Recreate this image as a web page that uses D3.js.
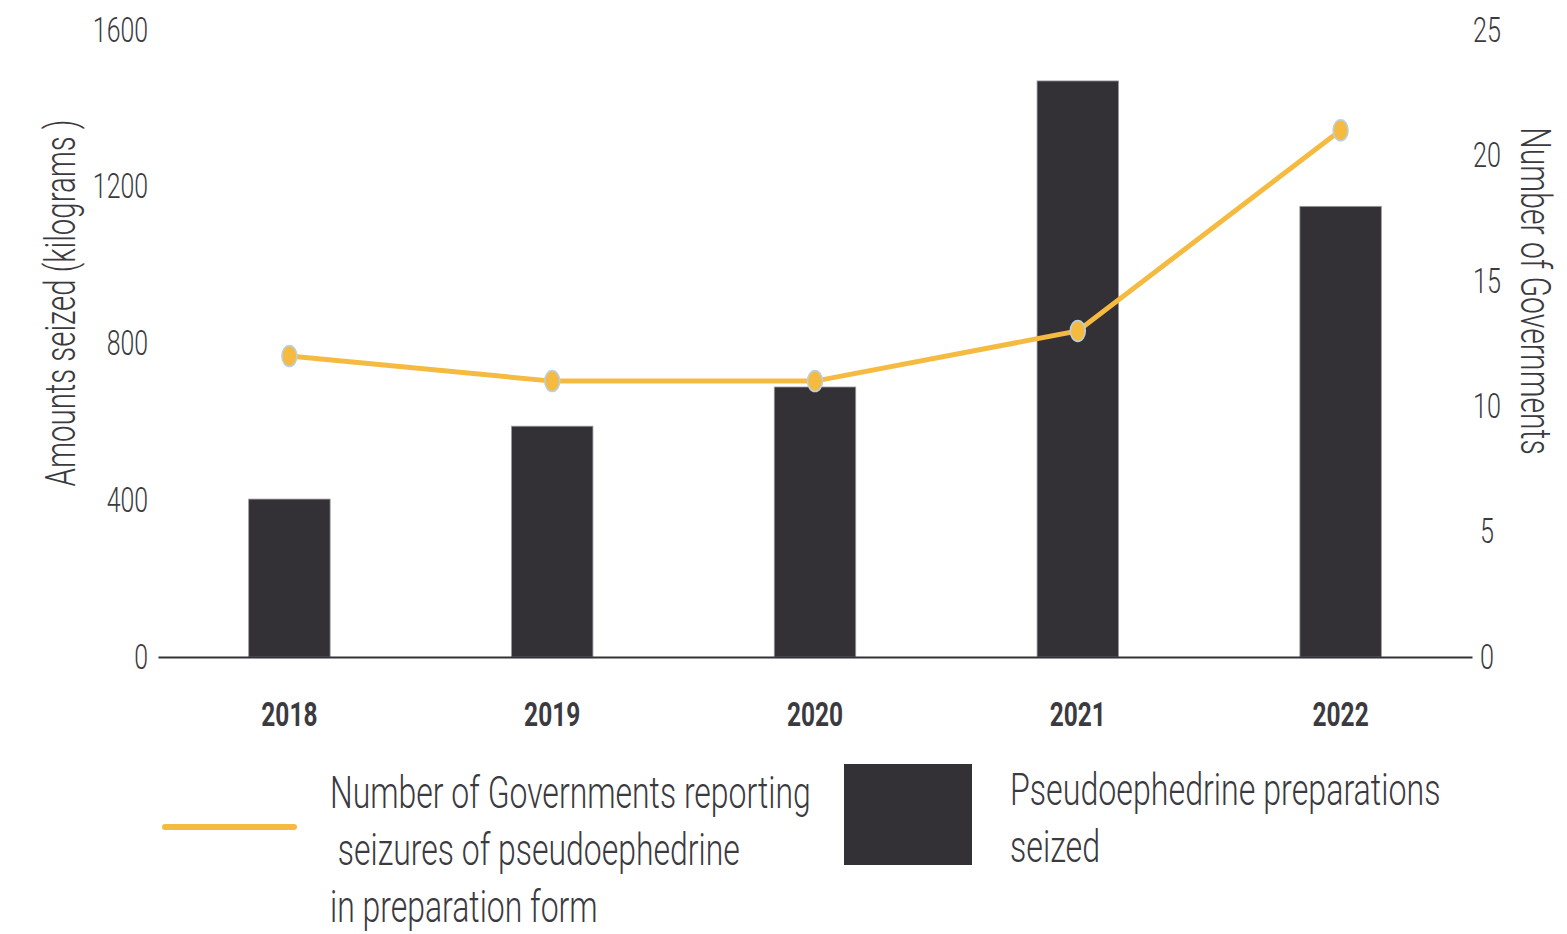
<!DOCTYPE html>
<html>
<head>
<meta charset="utf-8">
<script src="https://d3js.org/d3.v7.min.js"></script>
<style>
  body { margin: 0; background: #fff; }
  text { font-family: Roboto, "Liberation Sans", sans-serif; fill: #3b3a3f; }
</style>
</head>
<body>
<svg id="chart" width="1567" height="934"></svg>
<script>
// data
const years = ["2018", "2019", "2020", "2021", "2022"];
const seizedKg = [403, 589, 689, 1470, 1150];
const governments = [12, 11, 11, 13, 21];
const leftTicks = [0, 400, 800, 1200, 1600];
const rightTicks = [0, 5, 10, 15, 20, 25];

const barColor = "#333036",
      lineColor = "#f5bb40";

const margin = {top: 30, right: 95, bottom: 277, left: 158};
const width = 1567, height = 934;

const svg = d3.select("#chart");

// squeeze text horizontally to imitate the condensed face
function condense(sel, k) {
  sel.each(function() {
    var len = this.getComputedTextLength();
    d3.select(this).attr("textLength", len * k).attr("lengthAdjust", "spacingAndGlyphs");
  });
}

const x = d3.scaleBand()
  .domain(years)
  .range([margin.left, width - margin.right])
  .paddingInner(0.69)
  .paddingOuter(0.345);

const yL = d3.scaleLinear().domain([0, 1600]).range([height - margin.bottom, margin.top]);
const yR = d3.scaleLinear().domain([0, 25]).range([height - margin.bottom, margin.top]);

// bars
svg.append("g").selectAll("rect")
  .data(years)
  .enter().append("rect")
    .attr("x", function(d) { return x(d); })
    .attr("y", function(d, i) { return yL(seizedKg[i]); })
    .attr("width", x.bandwidth())
    .attr("height", function(d, i) { return yL(0) - yL(seizedKg[i]); })
    .attr("fill", barColor)
    .attr("stroke", "#9a9aa0")
    .attr("stroke-width", 0.8);

// x axis line
const xAxis = d3.axisBottom(x).tickSize(0).tickPadding(62);
const gx = svg.append("g")
  .attr("transform", "translate(0," + yL(0) + ")")
  .call(xAxis);
gx.select(".domain").attr("stroke", "#333036").attr("stroke-width", 2);
gx.selectAll("text")
  .attr("font-size", 34).attr("font-weight", "bold").attr("fill", "#333036")
  .attr("dy", "0.2em")
  .call(condense, 0.72);

// left axis
const gl = svg.append("g")
  .attr("transform", "translate(" + (margin.left - 10) + ",0)")
  .call(d3.axisLeft(yL).tickValues(leftTicks).tickSize(0).tickPadding(0).tickFormat(d3.format("d")));
gl.select(".domain").remove();
gl.selectAll("text").attr("font-size", 35).attr("font-weight", 300).attr("fill", "#3b3a3f")
  .call(condense, 0.71);

// right axis
const gr = svg.append("g")
  .attr("transform", "translate(" + (width - margin.right) + ",0)")
  .call(d3.axisRight(yR).tickValues(rightTicks).tickSize(0).tickPadding(15));
gr.select(".domain").remove();
gr.selectAll("text").attr("font-size", 35).attr("font-weight", 300).attr("fill", "#3b3a3f")
  .attr("text-anchor", "middle")
  .call(condense, 0.72);

// axis titles
svg.append("text")
  .attr("transform", "translate(75,303) rotate(-90)")
  .attr("text-anchor", "middle")
  .attr("font-size", 42).attr("font-weight", 300)
  .text("Amounts seized (kilograms )")
  .call(condense, 0.7);

svg.append("text")
  .attr("transform", "translate(1521,291) rotate(90)")
  .attr("text-anchor", "middle")
  .attr("font-size", 42).attr("font-weight", 300)
  .text("Number of Governments")
  .call(condense, 0.72);

// line series
const cx = function(i) { return x(years[i]) + x.bandwidth() / 2; };
const line = d3.line()
  .x(function(d, i) { return cx(i); })
  .y(function(d) { return yR(d); });

svg.append("path")
  .datum(governments)
  .attr("d", line)
  .attr("fill", "none")
  .attr("stroke", lineColor)
  .attr("stroke-width", 5);

svg.append("g").selectAll("ellipse")
  .data(governments)
  .enter().append("ellipse")
    .attr("cx", function(d, i) { return cx(i); })
    .attr("cy", function(d) { return yR(d); })
    .attr("rx", 7.5)
    .attr("ry", 10.5)
    .attr("fill", lineColor)
    .attr("stroke", "#b9d0e6")
    .attr("stroke-width", 1.5);

// legend
const leg = svg.append("g");
leg.append("line")
  .attr("x1", 165).attr("x2", 294).attr("y1", 827).attr("y2", 827)
  .attr("stroke", lineColor).attr("stroke-width", 6).attr("stroke-linecap", "round");

const lineLabel = ["Number of Governments reporting", "\u00a0seizures of pseudoephedrine", "in preparation form"];
leg.selectAll("text.ll")
  .data(lineLabel)
  .enter().append("text")
    .attr("class", "ll")
    .attr("x", 330)
    .attr("y", function(d, i) { return 808 + i * 57; })
    .attr("font-size", 45).attr("font-weight", 300)
    .text(function(d) { return d; })
    .call(condense, 0.71);

leg.append("rect")
  .attr("x", 844).attr("y", 764).attr("width", 128).attr("height", 101)
  .attr("fill", barColor);

const barLabel = ["Pseudoephedrine preparations", "seized"];
leg.selectAll("text.bl")
  .data(barLabel)
  .enter().append("text")
    .attr("class", "bl")
    .attr("x", 1010)
    .attr("y", function(d, i) { return 805 + i * 57; })
    .attr("font-size", 45).attr("font-weight", 300)
    .text(function(d) { return d; })
    .call(condense, 0.715);
</script>
</body>
</html>
